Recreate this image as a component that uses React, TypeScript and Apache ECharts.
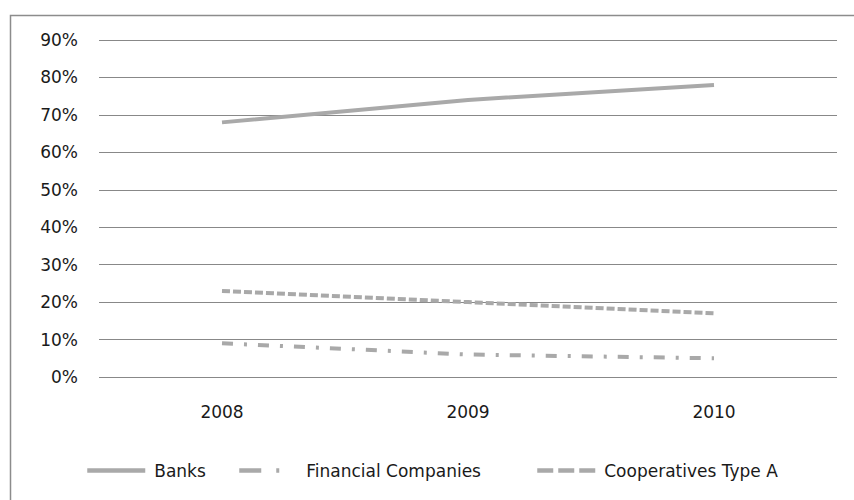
import React, { useEffect, useRef } from "react";
import * as echarts from "echarts";

const categories = ["2008", "2009", "2010"];
const banks = [68, 74, 78];
const financialCompanies = [9, 6, 5];
const cooperativesTypeA = [23, 20, 17];
const seriesNames = ["Banks", "Financial Companies", "Cooperatives Type A"];

export default function App() {
  const ref = useRef<HTMLDivElement>(null);
  useEffect(() => {
    document.body.style.margin = "0";
    const chart = echarts.init(ref.current!, null, { renderer: "svg" });
    const lineColor = "#a9a9a9";
    const font = "DejaVu Sans";
    const textColor = "#1a1a1a";
    const legendDashes: (number[] | "solid")[] = ["solid", [22, 15, 3, 18], [16, 5]];
    const legendLefts = [85, 237, 535];
    chart.setOption({
      animation: false,
      backgroundColor: "#ffffff",
      graphic: [
        {
          type: "rect",
          shape: { x: 10.5, y: 15.5, width: 900, height: 600 },
          style: { fill: "none", stroke: "#8c8c8c", lineWidth: 1.5 },
          silent: true,
        },
      ],
      grid: { left: 99, right: 17, top: 40, bottom: 123, containLabel: false },
      legend: seriesNames.map((name, i) => ({
        top: 462,
        left: legendLefts[i],
        padding: 0,
        itemWidth: 58,
        itemHeight: 14,
        itemGap: 0,
        itemStyle: { opacity: 0 },
        textStyle: { fontFamily: font, fontSize: 17, color: textColor, padding: [0, 0, 0, 4] },
        data: [
          {
            name,
            lineStyle: { color: lineColor, width: 4.5, type: legendDashes[i] },
          },
        ],
      })),
      xAxis: {
        type: "category",
        data: categories,
        boundaryGap: true,
        axisLine: { show: false },
        axisTick: { show: false },
        axisLabel: { fontFamily: font, fontSize: 17, color: textColor, margin: 26 },
      },
      yAxis: {
        type: "value",
        min: 0,
        max: 90,
        interval: 10,
        axisLine: { show: false },
        axisTick: { show: false },
        axisLabel: {
          formatter: "{value}%",
          fontFamily: font,
          fontSize: 17,
          color: textColor,
          margin: 21,
        },
        splitLine: { lineStyle: { color: "#888888", width: 1 } },
      },
      series: [
        {
          name: seriesNames[0],
          type: "line",
          data: banks,
          symbol: "none",
          lineStyle: { color: lineColor, width: 4 },
          itemStyle: { color: lineColor },
        },
        {
          name: seriesNames[1],
          type: "line",
          data: financialCompanies,
          symbol: "none",
          lineStyle: { color: lineColor, width: 4, type: [11, 11, 3, 11] },
          itemStyle: { color: lineColor },
        },
        {
          name: seriesNames[2],
          type: "line",
          data: cooperativesTypeA,
          symbol: "none",
          lineStyle: { color: lineColor, width: 4, type: [8, 3] },
          itemStyle: { color: lineColor },
        },
      ],
    });
    return () => chart.dispose();
  }, []);
  return <div ref={ref} style={{ width: 854, height: 500 }} />;
}
